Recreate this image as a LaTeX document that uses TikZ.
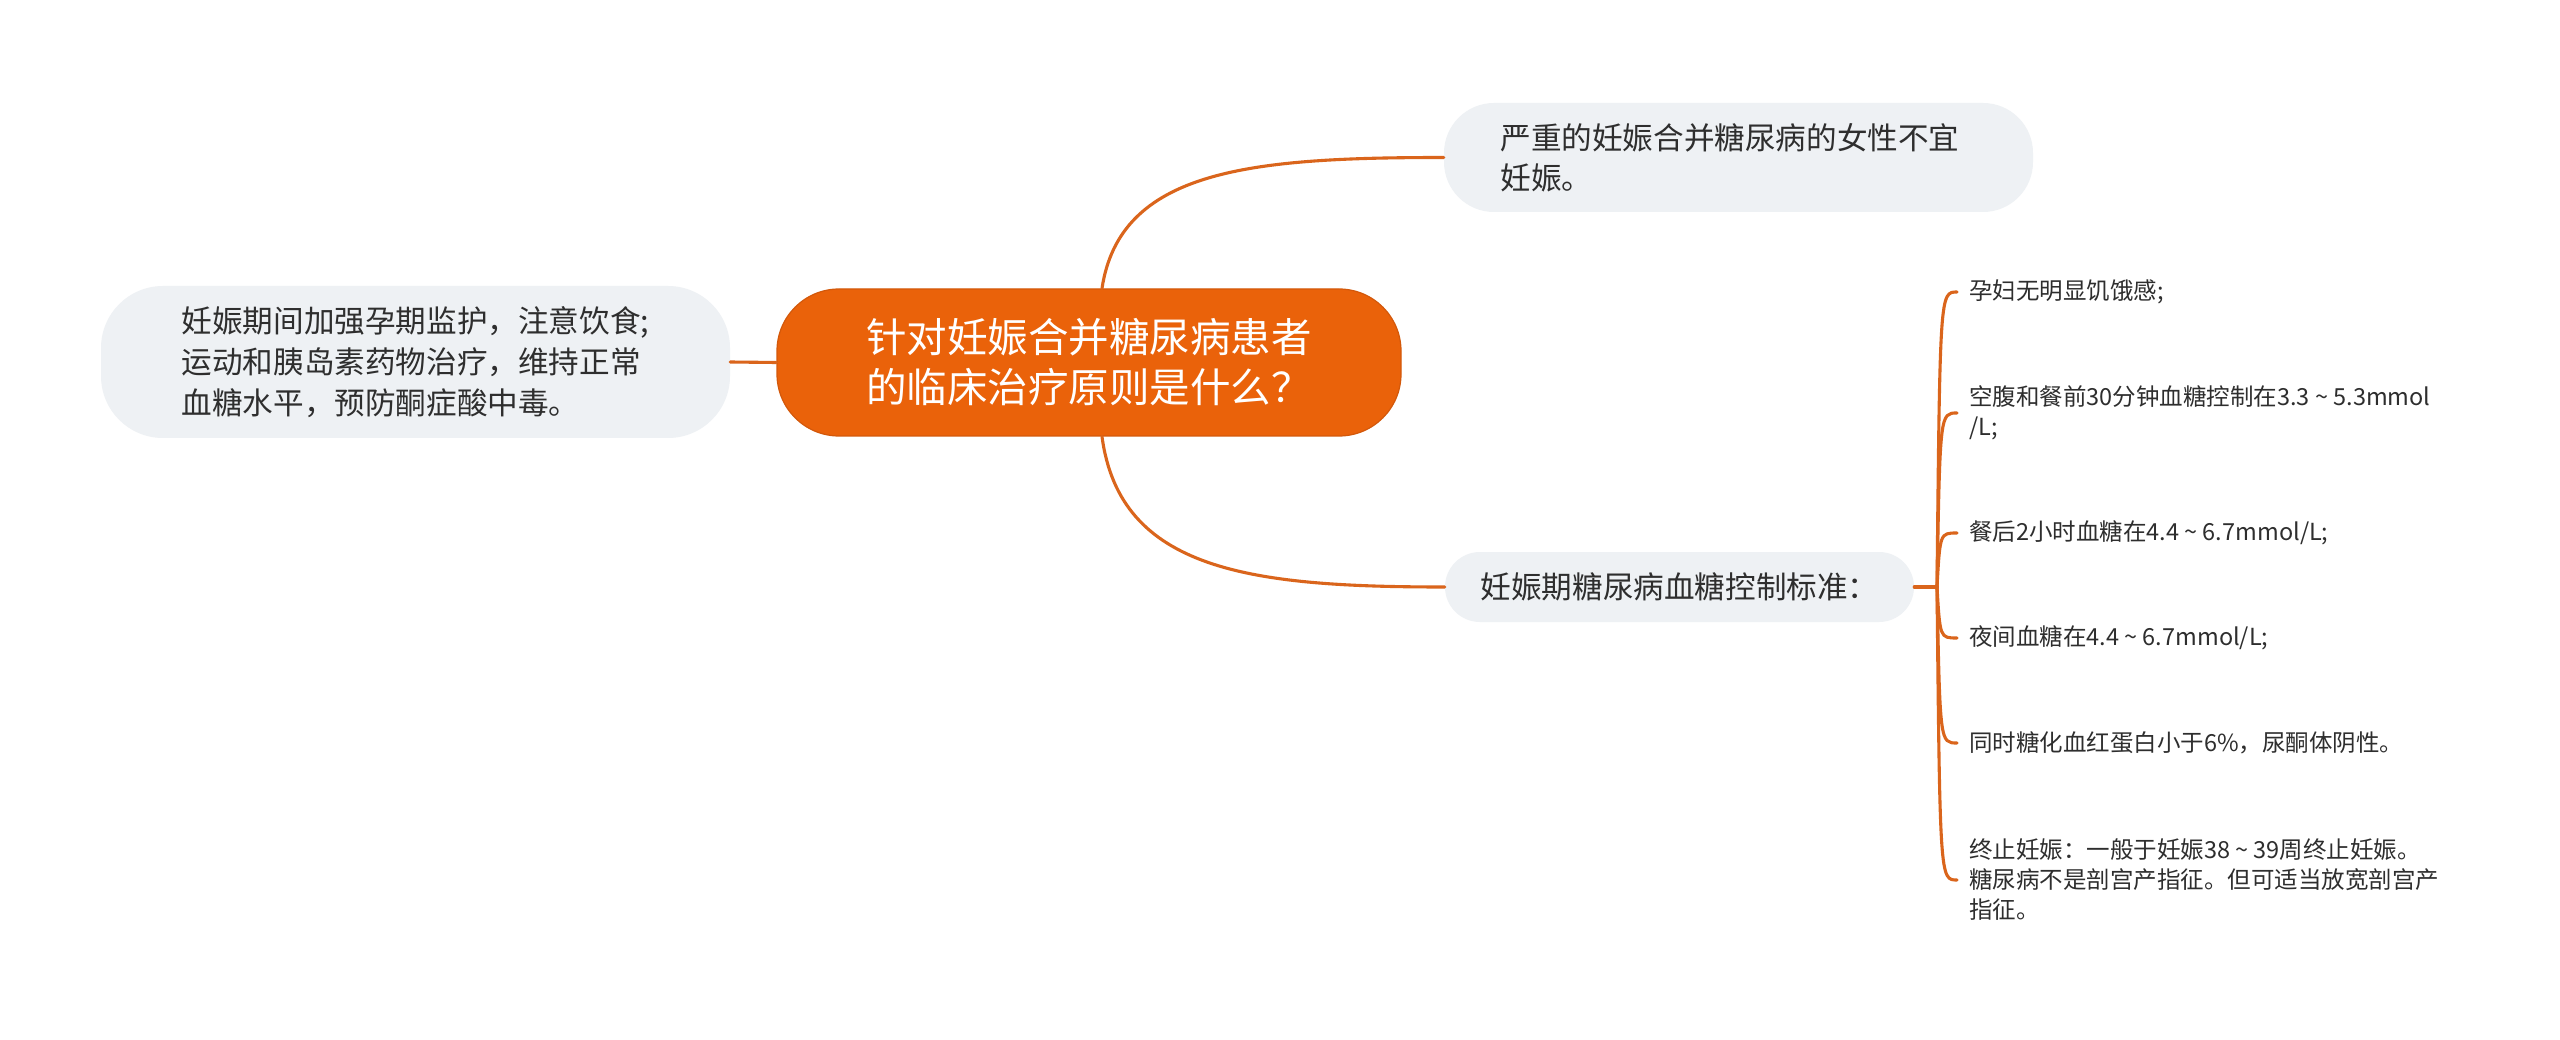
\documentclass[tikz,border=0pt]{standalone}
\usepackage{fontspec}
\setmainfont{Noto Sans CJK SC}
\usepackage{xcolor}
\usepackage{tikz}
\definecolor{rootorange}{HTML}{EA620A}
\definecolor{rootedge}{HTML}{D3580A}
\definecolor{linkorange}{HTML}{DA651C}
\definecolor{topicgray}{HTML}{EEF1F4}
\definecolor{inkgray}{HTML}{2E2E2E}
\newcommand{\tld}{\textasciitilde{}}
\begin{document}
\begin{tikzpicture}[x=1pt,y=-1pt,
    every node/.style={align=left,inner sep=0pt,text=inkgray},
    rootbox/.style={fill=rootorange,draw=rootedge,line width=1.2pt,rounded corners=62pt,text=white,font=\fontsize{40.5}{50}\selectfont},
    topicbox/.style={fill=topicgray,font=\fontsize{30.6}{40}\selectfont},
    leafbox/.style={anchor=west,inner xsep=12pt,font=\fontsize{23.5}{30}\selectfont},
    link/.style={draw=linkorange,line width=3.1pt,line cap=round}]
    \useasboundingbox[fill=white] (0,0) rectangle (2560,1040);
    \node[rootbox,minimum width=624pt,minimum height=147pt] (root) at (1089,362.5) {针对妊娠合并糖尿病患者\\的临床治疗原则是什么？};
    \node[topicbox,rounded corners=62pt,minimum width=629pt,minimum height=152pt,font=\fontsize{30.6}{41}\selectfont] (care) at (415.5,362) {妊娠期间加强孕期监护，注意饮食;\\运动和胰岛素药物治疗，维持正常\\血糖水平，预防酮症酸中毒。};
    \node[topicbox,rounded corners=50pt,minimum width=589pt,minimum height=109pt,text width=476pt] (avoid) at (1738.5,157.5) {严重的妊娠合并糖尿病的女性不宜\\妊娠。};
    \node[topicbox,rounded corners=35pt,minimum width=469pt,minimum height=70pt] (norm) at (1679.5,587) {妊娠期糖尿病血糖控制标准：};
    \coordinate (hub) at (1937,587);
    \coordinate (trunk) at (1940,587);
    \node[leafbox] (hunger) at (1957,292) {孕妇无明显饥饿感;};
    \node[leafbox] (fasting) at (1957,413) {空腹和餐前30分钟血糖控制在3.3 \tld{} 5.3mmol\\/L;};
    \node[leafbox] (meal) at (1957,533) {餐后2小时血糖在4.4 \tld{} 6.7mmol/L;};
    \node[leafbox] (night) at (1957,638) {夜间血糖在4.4 \tld{} 6.7mmol/L;};
    \node[leafbox] (hba) at (1957,743) {同时糖化血红蛋白小于6\%，尿酮体阴性。};
    \node[leafbox] (term) at (1957,880) {终止妊娠：一般于妊娠38 \tld{} 39周终止妊娠。\\糖尿病不是剖宫产指征。但可适当放宽剖宫产\\指征。};
    \draw[link] (root.west) -- (care.east);
    \draw[link] ([xshift=13pt]root.north) .. controls +(18,-119) and +(-193,0) .. (avoid.west);
    \draw[link] ([xshift=13pt]root.south) .. controls +(18,134) and +(-195,0) .. (norm.west);
    \draw[link] (norm.east) -- (hub);
    \foreach \leaf in {hunger,fasting,meal,night,hba,term}
        \draw[link] (hub) .. controls (trunk |- \leaf.west) and (trunk |- \leaf.west) .. (\leaf.west);
\end{tikzpicture}
\end{document}
